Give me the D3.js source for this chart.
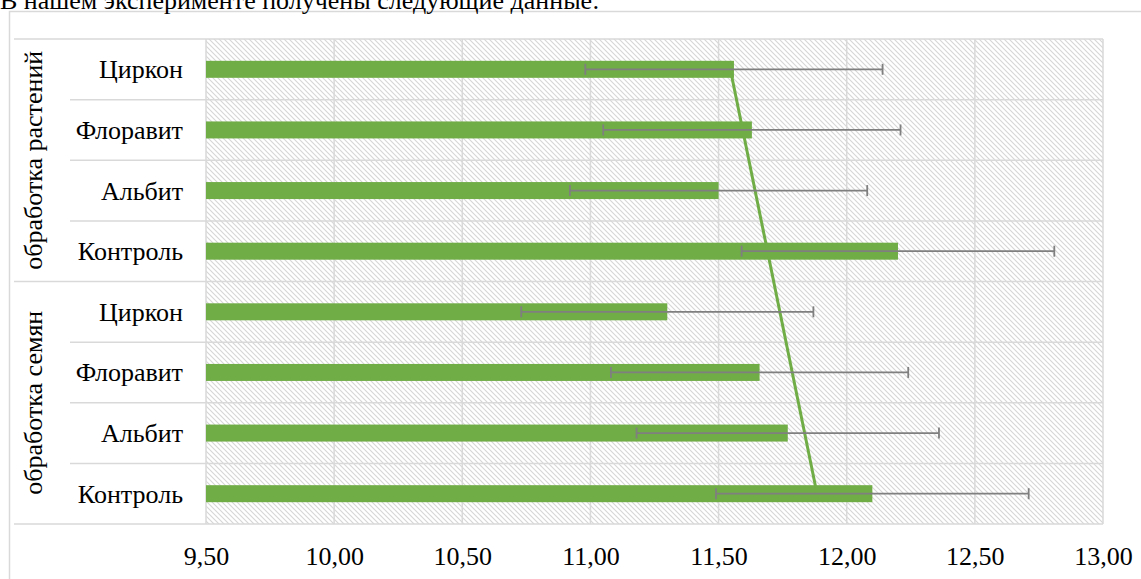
<!DOCTYPE html>
<html>
<head>
<meta charset="utf-8">
<script src="https://cdn.jsdelivr.net/npm/d3@7"></script>
</head>
<body style="margin:0;background:#fff">
<script>
/* DATA */
const groups = ["обработка семян", "обработка растений"];
const treatments = ["Контроль", "Альбит", "Флоравит", "Циркон"];
const seedValues = [12.10, 11.77, 11.66, 11.30];
const plantValues = [12.20, 11.50, 11.63, 11.56];
const seedErrors = [0.61, 0.59, 0.58, 0.57];
const plantErrors = [0.61, 0.58, 0.58, 0.58];
const xTicks = [9.5, 10, 10.5, 11, 11.5, 12, 12.5, 13];
const heading = "В нашем эксперименте получены следующие данные:";

// rows from bottom to top, like the category axis
const rows = [];
treatments.forEach((t, i) => rows.push({group: 0, name: t, value: seedValues[i], err: seedErrors[i]}));
treatments.forEach((t, i) => rows.push({group: 1, name: t, value: plantValues[i], err: plantErrors[i]}));
rows.forEach((d, i) => d.idx = i);

/* SIZES */
const W = 1141, H = 579;
const plot = {left: 206, right: 1103, top: 39, bottom: 524};
const green = "#70ad47", grid = "#d9d9d9";
const FONT = "'Liberation Serif', 'Times New Roman', serif";

const x = d3.scaleLinear().domain([9.5, 13]).range([plot.left, plot.right]);
const y = d3.scaleBand().domain(d3.range(rows.length).reverse())
  .range([plot.top, plot.bottom]).paddingInner(0).paddingOuter(0);
const barH = 17;
const rowC = i => y(i) + y.bandwidth() / 2;

const ru = d3.formatLocale({decimal: ",", thousands: " ", grouping: [3], currency: ["", " ₽"]});
const fmt = ru.format(".2f");

const svg = d3.select("body").append("svg")
  .attr("width", W).attr("height", H)
  .style("display", "block")
  .style("font-family", FONT);

// hatch pattern for plot area
const pat = svg.append("defs").append("pattern")
  .attr("id", "hatch").attr("patternUnits", "userSpaceOnUse")
  .attr("width", 5).attr("height", 5);
pat.append("rect").attr("width", 5).attr("height", 5).attr("fill", "#fff");
pat.append("path").attr("d", "M-1,-1 L6,6 M-1,4 L1,6 M4,-1 L6,1")
  .attr("stroke", "#d6d6d6").attr("stroke-width", 1.1);

// chart border
svg.append("rect").attr("x", 9.5).attr("y", 11.5)
  .attr("width", W).attr("height", H)
  .attr("fill", "#fff").attr("stroke", grid).attr("stroke-width", 1.5);

// heading text (cut at top, as in the source page)
svg.append("text").attr("x", 0).attr("y", 9)
  .style("font-family", FONT)
  .attr("font-size", 26).attr("fill", "#000").text(heading);

// plot background
svg.append("rect").attr("x", plot.left).attr("y", plot.top)
  .attr("width", plot.right - plot.left).attr("height", plot.bottom - plot.top)
  .attr("fill", "url(#hatch)");

// vertical gridlines
svg.append("g").selectAll("line").data(xTicks).join("line")
  .attr("x1", d => x(d)).attr("x2", d => x(d))
  .attr("y1", plot.top).attr("y2", plot.bottom)
  .attr("stroke", grid).attr("stroke-width", 1.5);

// horizontal row lines (plot + label table)
const bounds = d3.range(rows.length + 1).map(i => plot.bottom - i * y.bandwidth());
svg.append("g").selectAll("line").data(bounds).join("line")
  .attr("x1", (d, i) => (i % 4 === 0) ? 14 : 70)
  .attr("x2", plot.right)
  .attr("y1", d => d).attr("y2", d => d)
  .attr("stroke", grid).attr("stroke-width", 1.5);

// bars
svg.append("g").selectAll("rect").data(rows).join("rect")
  .attr("x", x(9.5))
  .attr("y", d => rowC(d.idx) - barH / 2)
  .attr("width", d => x(d.value) - x(9.5))
  .attr("height", barH)
  .attr("fill", green);

// linear trend line (least squares over category index)
const n = rows.length;
const mx = d3.mean(rows, d => d.idx), my = d3.mean(rows, d => d.value);
const slope = d3.sum(rows, d => (d.idx - mx) * (d.value - my)) / d3.sum(rows, d => (d.idx - mx) ** 2);
const trend = i => my + slope * (i - mx);
svg.append("line")
  .attr("x1", x(trend(0))).attr("y1", rowC(0))
  .attr("x2", x(trend(n - 1))).attr("y2", rowC(n - 1))
  .attr("stroke", green).attr("stroke-width", 3);

// error bars
const eb = svg.append("g").attr("stroke", "#7f7f7f").attr("stroke-width", 1.8);
rows.forEach(d => {
  const cy = rowC(d.idx);
  eb.append("line").attr("x1", x(d.value - d.err)).attr("x2", x(d.value + d.err))
    .attr("y1", cy).attr("y2", cy);
  [d.value - d.err, d.value + d.err].forEach(v => {
    eb.append("line").attr("x1", x(v)).attr("x2", x(v))
      .attr("y1", cy - 5.5).attr("y2", cy + 5.5);
  });
});

// category labels
svg.append("g").selectAll("text").data(rows).join("text")
  .attr("x", 183).attr("y", d => rowC(d.idx) + 9)
  .style("font-family", FONT)
  .attr("text-anchor", "end").attr("font-size", 26).attr("fill", "#000")
  .text(d => d.name);

// group labels (rotated)
groups.forEach((g, gi) => {
  const cy = (rowC(gi * 4) + rowC(gi * 4 + 3)) / 2;
  svg.append("text")
    .attr("transform", `translate(42,${cy}) rotate(-90)`)
    .style("font-family", FONT)
    .attr("text-anchor", "middle").attr("font-size", 26).attr("fill", "#000")
    .text(g);
});

// x axis
const xAxis = svg.append("g")
  .attr("transform", `translate(0,${plot.bottom})`)
  .call(d3.axisBottom(x).tickValues(xTicks).tickFormat(fmt).tickSize(0));
xAxis.select(".domain").remove();
xAxis.selectAll("text")
  .attr("y", 41).attr("dy", null)
  .style("font-family", FONT)
  .attr("font-size", 26).attr("fill", "#000");
</script>
</body>
</html>
